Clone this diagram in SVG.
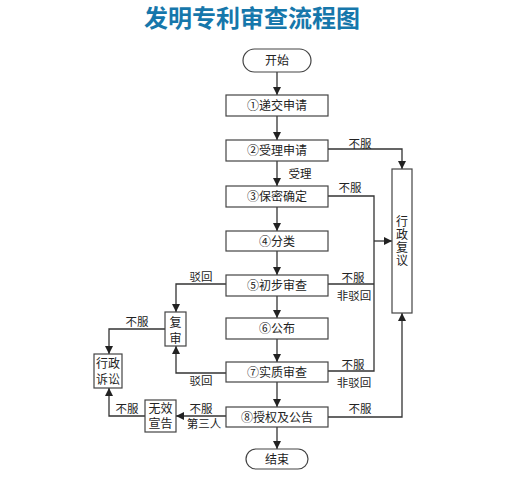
<svg xmlns="http://www.w3.org/2000/svg" width="514" height="482" viewBox="0 0 514 482">
<style>
.t{font-family:"Liberation Sans","Noto Sans CJK SC",sans-serif;font-size:12px;fill:#222;text-anchor:middle}
.l{font-family:"Liberation Sans","Noto Sans CJK SC",sans-serif;font-size:11.5px;fill:#222;text-anchor:middle}
.b{fill:#fff;stroke:#444;stroke-width:1.2}
.c{fill:none;stroke:#333;stroke-width:1.3}
</style>
<defs>
<marker id="a" markerUnits="userSpaceOnUse" markerWidth="10" markerHeight="10" viewBox="0 0 10 10" refX="9" refY="5" orient="auto">
<path d="M1,1 L9,5 L1,9 Z" fill="#222"/>
</marker>
</defs>
<rect width="514" height="482" fill="#fff"/>
<text x="252" y="27" style="font-family:'Noto Sans CJK SC',sans-serif;font-size:24px;font-weight:bold;fill:#1677ab;text-anchor:middle">发明专利审查流程图</text>

<g id="connectors">
<path class="c" d="M277,72 V95" marker-end="url(#a)"/>
<path class="c" d="M277,116 V140" marker-end="url(#a)"/>
<path class="c" d="M277,161 V186" marker-end="url(#a)"/>
<path class="c" d="M277,207 V231" marker-end="url(#a)"/>
<path class="c" d="M277,251 V275" marker-end="url(#a)"/>
<path class="c" d="M277,296 V318" marker-end="url(#a)"/>
<path class="c" d="M277,339 V362" marker-end="url(#a)"/>
<path class="c" d="M277,382 V407" marker-end="url(#a)"/>
<path class="c" d="M277,427 V449" marker-end="url(#a)"/>
<path class="c" d="M328,149 H402 V169" marker-end="url(#a)"/>
<path class="c" d="M328,196 H374 V371 H328"/>
<path class="c" d="M328,284 H374"/>
<path class="c" d="M374,241 H392" marker-end="url(#a)"/>
<path class="c" d="M328,417 H402 V313" marker-end="url(#a)"/>
<path class="c" d="M226,284 H176 V312" marker-end="url(#a)"/>
<path class="c" d="M226,373 H176 V346" marker-end="url(#a)"/>
<path class="c" d="M165,329 H109 V354" marker-end="url(#a)"/>
<path class="c" d="M226,416 H176" marker-end="url(#a)"/>
<path class="c" d="M145,416 H109 V388" marker-end="url(#a)"/>
<text class="l" x="360" y="148">不服</text>
<text class="l" x="300" y="178">受理</text>
<text class="l" x="350" y="192">不服</text>
<text class="l" x="353" y="282">不服</text>
<text class="l" x="354" y="300">非驳回</text>
<text class="l" x="353" y="369">不服</text>
<text class="l" x="354" y="387">非驳回</text>
<text class="l" x="360" y="413">不服</text>
<text class="l" x="201" y="281">驳回</text>
<text class="l" x="201" y="385">驳回</text>
<text class="l" x="137" y="326">不服</text>
<text class="l" x="201" y="413">不服</text>
<text class="l" x="204" y="428">第三人</text>
<text class="l" x="127" y="413">不服</text>
</g>

<g id="start"><rect class="b" x="243" y="49" width="68" height="23" rx="11.5"/><text class="t" x="277" y="65">开始</text></g>
<g id="n1"><rect class="b" x="226" y="95" width="102" height="21"/><text class="t" x="277" y="110">①递交申请</text></g>
<g id="n2"><rect class="b" x="226" y="140" width="102" height="21"/><text class="t" x="277" y="155">②受理申请</text></g>
<g id="n3"><rect class="b" x="226" y="186" width="102" height="21"/><text class="t" x="277" y="201">③保密确定</text></g>
<g id="n4"><rect class="b" x="226" y="231" width="102" height="20"/><text class="t" x="277" y="246">④分类</text></g>
<g id="n5"><rect class="b" x="226" y="275" width="102" height="21"/><text class="t" x="277" y="290">⑤初步审查</text></g>
<g id="n6"><rect class="b" x="226" y="318" width="102" height="21"/><text class="t" x="277" y="333">⑥公布</text></g>
<g id="n7"><rect class="b" x="226" y="362" width="102" height="20"/><text class="t" x="277" y="377">⑦实质审查</text></g>
<g id="n8"><rect class="b" x="226" y="407" width="102" height="20"/><text class="t" x="277" y="422">⑧授权及公告</text></g>
<g id="end"><rect class="b" x="246" y="449" width="62" height="20" rx="10"/><text class="t" x="277" y="464">结束</text></g>
<g id="review"><rect class="b" x="392" y="169" width="20" height="144"/>
<text class="t" x="402" y="226">行</text><text class="t" x="402" y="239">政</text><text class="t" x="402" y="252">复</text><text class="t" x="402" y="265">议</text></g>
<g id="reexam"><rect class="b" x="165" y="312" width="21" height="34"/><text class="t" x="175.5" y="327">复</text><text class="t" x="175.5" y="343">审</text></g>
<g id="lawsuit"><rect class="b" x="94" y="354" width="28" height="34"/><text class="t" x="108" y="368">行政</text><text class="t" x="108" y="384">诉讼</text></g>
<g id="invalid"><rect class="b" x="145" y="400" width="31" height="32"/><text class="t" x="160.5" y="413">无效</text><text class="t" x="160.5" y="428">宣告</text></g>
</svg>
